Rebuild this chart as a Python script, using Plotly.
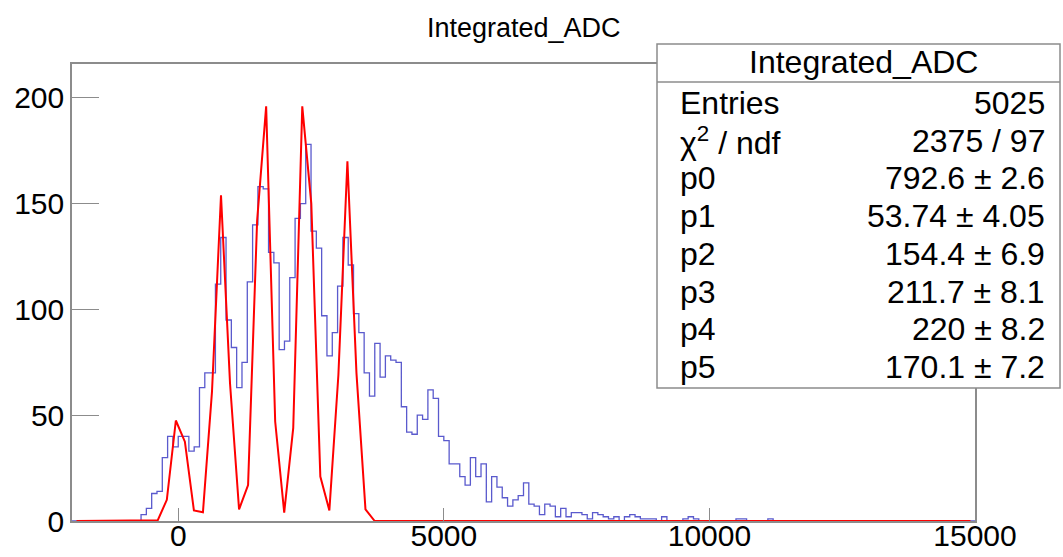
import plotly.graph_objects as go

# ---------------- data ----------------
bin_width = 100
hist_min, hist_max = -2000, 15000
first_bin_edge = -700
counts = [3, 6, 13, 14, 30, 40, 35, 40, 40, 33,
          35, 63, 70, 70, 112, 134, 95, 82, 63, 75,
          113, 140, 158, 157, 127, 122, 81, 85, 115, 143,
          150, 178, 137, 129, 97, 78, 89, 111, 134, 121,
          98, 89, 70, 59, 84, 68, 78, 76, 75, 54,
          42, 41, 50, 48, 62, 58, 40, 38, 27, 27,
          21, 17, 30, 21, 27, 9, 21, 16, 11, 7,
          10, 12, 18, 8, 7, 3, 8, 7, 2, 6,
          2, 4, 4, 3, 1, 4, 3, 2, 1, 2,
          0, 2, 3, 2, 1, 1, 1, 0, 2, 0,
          0, 0, 1, 2, 1, 0, 0, 0, 0, 0,
          0, 0, 1, 1, 0, 0, 0, 0, 1]

fit_x = [-1915, -385, -215, -45, 125, 295, 465, 635, 805, 975, 1145, 1315,
         1485, 1655, 1825, 1995, 2165, 2335, 2505, 2675, 2845, 3015, 3185,
         3355, 3525, 3695, 3865, 14915]
fit_y = [0, 0.4, 10, 47.5, 37.5, 5, 4.1, 61, 154, 65, 5.5, 17,
         142, 196, 47, 4, 44, 196, 150, 21, 5, 69, 170,
         70, 5.5, 0.1, 0, 0]

x_ticks = [0, 5000, 10000, 15000]
y_ticks = [0, 50, 100, 150, 200]

title = "Integrated_ADC"
stats_labels = ["Entries", "\u03c7<sup>2</sup> / ndf", "p0", "p1", "p2", "p3", "p4", "p5"]
stats_values = ["5025", "2375 / 97", "792.6 \u00b1 2.6", "53.74 \u00b1 4.05",
                "154.4 \u00b1 6.9", "211.7 \u00b1 8.1", "220 \u00b1 8.2", "170.1 \u00b1 7.2"]

# ---------------- build histogram steps ----------------
n_bins = (hist_max - hist_min) // bin_width
offset = (first_bin_edge - hist_min) // bin_width
all_counts = [0] * n_bins
for i, c in enumerate(counts):
    all_counts[offset + i] = c
edges = [hist_min + i * bin_width for i in range(n_bins + 1)]
step_x = edges
step_y = all_counts + [all_counts[-1]]

# ---------------- geometry (pixels) ----------------
W, H = 1063, 557
L, R, T, B = 72, 975, 64, 521
pw, ph = R - L, B - T

def px(xp):
    return (xp - L) / pw

def py(yp):
    return (B - yp) / ph

FONT = "Liberation Sans, Arial, Helvetica, sans-serif"
GREY = "#8c8c8c"

fig = go.Figure()
fig.add_trace(go.Scatter(x=step_x, y=step_y, mode="lines", line_shape="hv",
                         line=dict(color="rgb(90,90,205)", width=1.3),
                         hoverinfo="skip"))
fig.add_trace(go.Scatter(x=fit_x, y=fit_y, mode="lines",
                         line=dict(color="#ff0000", width=2),
                         hoverinfo="skip"))

fig.update_layout(
    width=W, height=H,
    margin=dict(l=L, r=W - R, t=T, b=H - B, pad=0, autoexpand=False),
    plot_bgcolor="white", paper_bgcolor="white",
    showlegend=False,
    font=dict(family=FONT, color="black"),
)
fig.update_xaxes(range=[hist_min, hist_max], tickvals=x_ticks,
                 ticktext=[str(v) for v in x_ticks], automargin=False,
                 showgrid=False, zeroline=False,
                 showline=True, linecolor=GREY, linewidth=1.5, mirror=True,
                 ticks="inside", ticklen=13, tickcolor=GREY, tickwidth=1.2,
                 ticklabelstandoff=-13,
                 tickfont=dict(size=30, family=FONT, color="black"))
fig.update_yaxes(range=[0, 216], tickvals=y_ticks, automargin=False,
                 showgrid=False, zeroline=False,
                 showline=True, linecolor=GREY, linewidth=1.5, mirror=True,
                 ticks="inside", ticklen=27, tickcolor=GREY, tickwidth=1.2,
                 tickfont=dict(size=30, family=FONT, color="black"))

# title
fig.add_annotation(text=title, x=0.5, y=py(28), xref="paper", yref="paper",
                   showarrow=False, xanchor="center", yanchor="middle",
                   font=dict(size=27, family=FONT, color="black"))

# stats box
bx0, bx1, by0, by1, bsep = 657, 1060, 44, 388, 82
fig.add_shape(type="rect", xref="paper", yref="paper",
              x0=px(bx0), x1=px(bx1), y0=py(by1), y1=py(by0),
              line=dict(color=GREY, width=1.5), fillcolor="white", layer="above")
fig.add_shape(type="line", xref="paper", yref="paper",
              x0=px(bx0), x1=px(bx1), y0=py(bsep), y1=py(bsep),
              line=dict(color=GREY, width=1.5), layer="above")
fig.add_annotation(text=title, x=px(863), y=py(62),
                   xref="paper", yref="paper", showarrow=False,
                   xanchor="center", yanchor="middle",
                   font=dict(size=32, family=FONT, color="black"))
row0, dy = 103, 37.7
for i, (lab, val) in enumerate(zip(stats_labels, stats_values)):
    yy = py(row0 + i * dy)
    fig.add_annotation(text=lab, x=px(678), y=yy, xref="paper", yref="paper",
                       showarrow=False, xanchor="left", yanchor="middle",
                       font=dict(size=32, family=FONT, color="black"))
    fig.add_annotation(text=val, x=px(1047), y=yy, xref="paper", yref="paper",
                       showarrow=False, xanchor="right", yanchor="middle",
                       font=dict(size=32, family=FONT, color="black"))

fig.write_html("out.html")
